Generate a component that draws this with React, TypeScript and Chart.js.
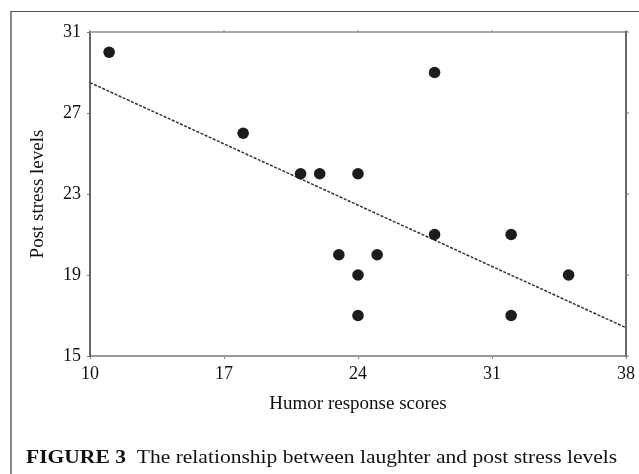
import React, { useEffect, useRef } from "react";
import { Chart, registerables } from "chart.js";

Chart.register(...registerables);

const humorScores = [11, 18, 21, 22, 24, 28, 28, 32, 23, 25, 24, 24, 32, 35];
const stressLevels = [30, 26, 24, 24, 24, 29, 21, 21, 20, 20, 19, 17, 17, 19];
const fitX = [10, 38];
const fitY = [28.5, 16.4];
const xTicks = [10, 17, 24, 31, 38];
const yTicks = [15, 19, 23, 27, 31];
const xTitle = "Humor response scores";
const yTitle = "Post stress levels";

const SERIF = "'Liberation Serif', 'Times New Roman', serif";

const framePlugin = {
  id: "frameLines",
  afterDraw(chart: any) {
    const { ctx, chartArea, scales } = chart;
    const { left, right, top, bottom } = chartArea;
    ctx.save();
    ctx.strokeStyle = "#a8a8a8";
    ctx.lineWidth = 2;
    ctx.beginPath();
    ctx.moveTo(left, top);
    ctx.lineTo(right, top);
    ctx.stroke();
    ctx.lineWidth = 1;
    ctx.strokeStyle = "#888";
    scales.x.ticks.forEach((t: any) => {
      const px = scales.x.getPixelForValue(t.value);
      ctx.beginPath();
      ctx.moveTo(px, top);
      ctx.lineTo(px, top - 2);
      ctx.stroke();
    });
    ctx.strokeStyle = "#6a6a6a";
    ctx.lineWidth = 2;
    ctx.beginPath();
    ctx.moveTo(right, top - 1);
    ctx.lineTo(right, bottom + 1);
    ctx.stroke();
    ctx.lineWidth = 1;
    ctx.strokeStyle = "#777";
    scales.y.ticks.forEach((t: any) => {
      const py = scales.y.getPixelForValue(t.value);
      ctx.beginPath();
      ctx.moveTo(right, py);
      ctx.lineTo(right + 3, py);
      ctx.stroke();
    });
    ctx.restore();
  },
};

export default function App() {
  const ref = useRef<HTMLCanvasElement>(null);

  useEffect(() => {
    if (!ref.current) return;
    const points = humorScores.map((x, i) => ({ x, y: stressLevels[i] }));
    const fit = fitX.map((x, i) => ({ x, y: fitY[i] }));
    const chart = new Chart(ref.current, {
      type: "scatter",
      data: {
        datasets: [
          {
            type: "line",
            data: fit,
            borderColor: "#333",
            borderWidth: 1.5,
            borderDash: [3, 1.5],
            pointRadius: 0,
            fill: false,
            order: 2,
          } as any,
          {
            data: points,
            backgroundColor: "#1c1c1c",
            borderColor: "#1c1c1c",
            borderWidth: 0,
            pointRadius: 5.8,
            order: 1,
          },
        ],
      },
      options: {
        animation: false,
        responsive: false,
        maintainAspectRatio: false,
        layout: { padding: { left: 0, top: 32, right: 13, bottom: 56 } },
        plugins: {
          legend: { display: false },
          tooltip: { enabled: false },
          title: { display: false },
        },
        scales: {
          x: {
            type: "linear",
            min: 10,
            max: 38,
            afterBuildTicks: (s: any) => {
              s.ticks = xTicks.map((v) => ({ value: v }));
            },
            afterFit: (s: any) => {
              s.height = 62;
            },
            ticks: {
              font: { family: SERIF, size: 18 },
              color: "#111",
              padding: 4,
              maxRotation: 0,
            },
            grid: {
              drawOnChartArea: false,
              drawTicks: true,
              tickLength: 3,
              tickColor: "#888",
            },
            border: { color: "#9a9a9a", width: 2 },
            title: {
              display: true,
              text: xTitle,
              font: { family: SERIF, size: 19 },
              color: "#111",
              padding: { top: 0, bottom: 2.3 },
            },
          },
          y: {
            type: "linear",
            min: 15,
            max: 31,
            afterBuildTicks: (s: any) => {
              s.ticks = yTicks.map((v) => ({ value: v }));
            },
            afterFit: (s: any) => {
              s.width = 90;
            },
            ticks: {
              font: { family: SERIF, size: 18 },
              color: "#111",
              padding: 6,
            },
            grid: {
              drawOnChartArea: false,
              drawTicks: true,
              tickLength: 3,
              tickColor: "#777",
            },
            border: { color: "#666", width: 2 },
            title: {
              display: true,
              text: yTitle,
              font: { family: SERIF, size: 19 },
              color: "#111",
              padding: { top: 27, bottom: 0 },
            },
          },
        },
      },
      plugins: [framePlugin],
    });
    return () => chart.destroy();
  }, []);

  return (
    <div
      style={{
        position: "absolute",
        left: 0,
        top: 0,
        width: 639,
        height: 474,
        background: "#fff",
        overflow: "hidden",
      }}
    >
      <div
        style={{
          position: "absolute",
          left: 10,
          top: 11,
          width: 700,
          height: 500,
          borderLeft: "2px solid #8a8a8a",
          borderTop: "1.5px solid #555",
          boxSizing: "border-box",
        }}
      />
      <canvas
        ref={ref}
        width={639}
        height={474}
        style={{ position: "absolute", left: 0, top: 0, width: 639, height: 474 }}
      />
      <div
        style={{
          position: "absolute",
          left: 26,
          top: 447,
          fontFamily: SERIF,
          fontSize: 19,
          lineHeight: "19px",
          color: "#111",
          whiteSpace: "nowrap",
          transform: "scaleX(1.134)",
          transformOrigin: "0 0",
        }}
      >
        <b>FIGURE 3</b>
        {"\u2002The relationship between laughter and post stress levels"}
      </div>
    </div>
  );
}
